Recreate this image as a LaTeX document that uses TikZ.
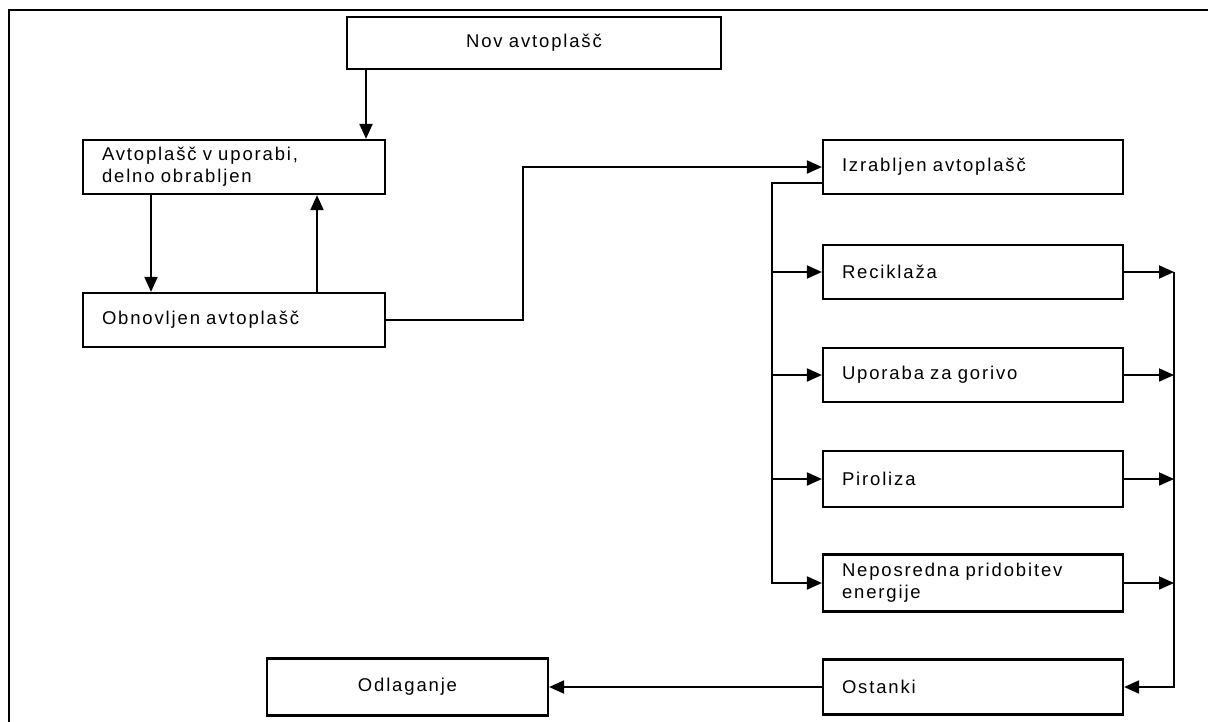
\documentclass[tikz,border=0pt]{standalone}
\usepackage{fontspec}
\setmainfont{Liberation Sans}[LetterSpace=10]
\usetikzlibrary{arrows.meta,calc}
\begin{document}
\begin{tikzpicture}[x=1pt,y=-1pt,
  box/.style={draw, line width=2.2pt, inner xsep=19pt, inner ysep=0pt,
    minimum height=54pt, text width=#1-38pt, align=left,
    font=\fontsize{18.5}{22}\selectfont},
  cbox/.style={box=#1, align=center},
  arr/.style={line width=2pt, -{Triangle[length=15pt,width=13pt]}},
  frame/.style={line width=2.8pt}]
\useasboundingbox (0,0) rectangle (1208,722);
\draw[frame] (1208,10) -- (9,10) -- (9,722);

\node[cbox=374pt, minimum height=52pt] (nov) at (534,43) {Nov avtoplašč};
\node[box=302pt] (auto) at (234,167) {Avtoplašč v uporabi,\\delno obrabljen};
\node[box=302pt] (obn) at (234,320) {Obnovljen avtoplašč};
\node[box=300pt] (izr) at (973,167) {Izrabljen avtoplašč};
\node[box=300pt] (rec) at (973,272) {Reciklaža};
\node[box=300pt] (upo) at (973,375) {Uporaba za gorivo};
\node[box=300pt, minimum height=56pt] (pir) at (973,479) {Piroliza};
\node[box=300pt, minimum height=57pt] (nep) at (973,583) {Neposredna pridobitev\\energije};
\node[box=300pt, minimum height=55pt] (ost) at (973,687) {Ostanki};
\node[cbox=281pt, minimum height=57pt] (odl) at (407.5,687) {Odlaganje};

\draw[arr] (366,0 |- nov.south) -- (366,0 |- auto.north);
\draw[arr] (151,0 |- auto.south) -- (151,0 |- obn.north);
\draw[arr] (317,0 |- obn.north) -- (317,0 |- auto.south);
\draw[arr] (obn.east) -- (523,0 |- obn.east) -- (523,0 |- izr.west) -- (izr.west);

\coordinate (br) at ($(izr.south west)+(0,-12)$);
\draw[arr] (br) -| (772,0 |- nep.west) -- (nep.west);
\foreach \n in {rec,upo,pir} {
  \draw[arr] (772,0 |- \n.west) -- (\n.west);
  \draw[arr] (\n.east) -- (1174,0 |- \n.east);
}
\draw[arr] (nep.east) -- (1174,0 |- nep.east);
\draw[arr] (1174,0 |- rec.east) -- (1174,0 |- ost.east) -- (ost.east);
\draw[arr] (ost.west) -- (odl.east);
\end{tikzpicture}
\end{document}
